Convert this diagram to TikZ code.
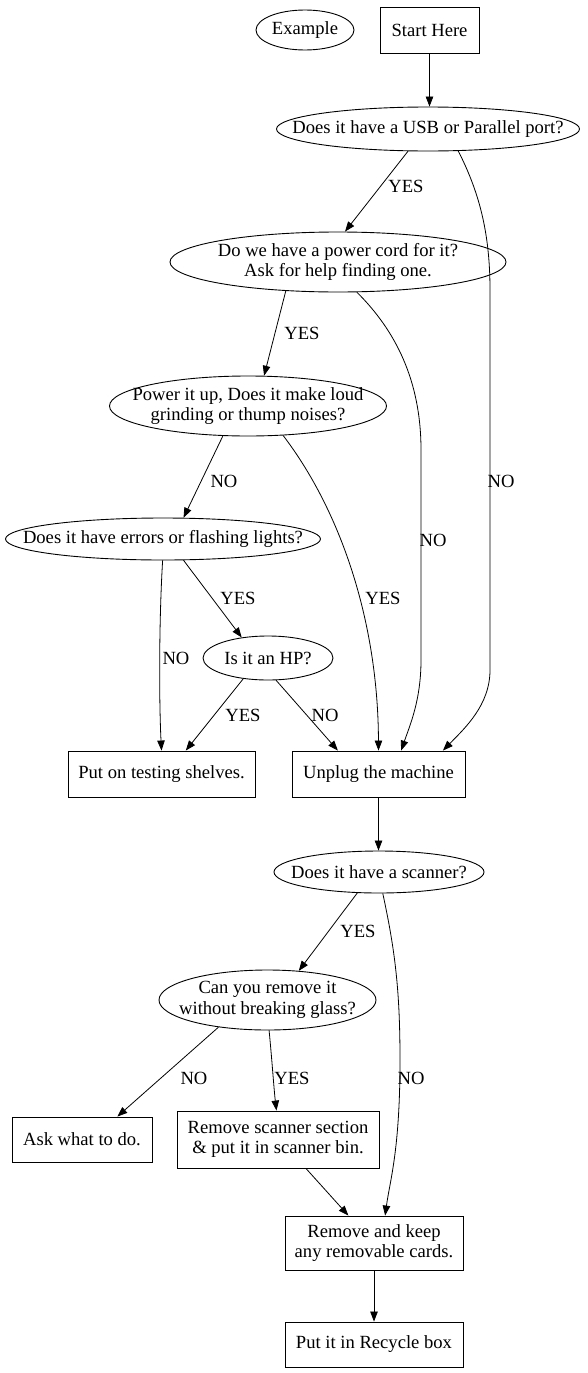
\documentclass[tikz,border=0pt]{standalone}
\usepackage{fontspec}
\setmainfont{Liberation Serif}
\usetikzlibrary{shapes.geometric,arrows.meta}
\begin{document}
\begin{tikzpicture}[x=1pt,y=-1pt,
  every node/.style={font=\fontsize{18.6}{20.5}\selectfont, align=center},
  box/.style={draw, line width=0.9pt, rectangle, inner sep=0pt},
  oval/.style={draw, line width=0.9pt, ellipse, inner xsep=-100pt, inner ysep=-15pt},
  arr/.style={draw, line width=0.8pt, -{Triangle[length=10pt,width=7.5pt]}},
  lbl/.style={inner sep=0pt}]
\useasboundingbox[fill=white] (0,0) rectangle (588,1373);
% nodes
\node[oval, minimum width=98pt, minimum height=40pt] (example) at (305,30) {Example};
\node[box, minimum width=99pt, minimum height=46pt] (start) at (429.5,30) {Start Here};
\node[oval, minimum width=303pt, minimum height=44pt] (usb) at (428,129) {Does it have a USB or Parallel port?};
\node[oval, minimum width=336pt, minimum height=60pt] (pc) at (338,262) {Do we have a power cord for it?\\Ask for help finding one.};
\node[oval, minimum width=277pt, minimum height=60pt] (pu) at (248,406) {Power it up, Does it make loud\\grinding or thump noises?};
\node[oval, minimum width=315pt, minimum height=42pt] (err) at (163,539) {Does it have errors or flashing lights?};
\node[oval, minimum width=130pt, minimum height=44pt] (hp) at (268,658) {Is it an HP?};
\node[box, minimum width=187pt, minimum height=46pt] (shelves) at (161.5,774) {Put on testing shelves.};
\node[box, minimum width=173pt, minimum height=46pt] (unplug) at (378.5,774) {Unplug the machine};
\node[oval, minimum width=210pt, minimum height=42pt] (scan) at (379,872) {Does it have a scanner?};
\node[oval, minimum width=217pt, minimum height=60pt] (canrm) at (267.5,1000) {Can you remove it\\without breaking glass?};
\node[box, minimum width=140pt, minimum height=45pt] (ask) at (82,1139.5) {Ask what to do.};
\node[box, minimum width=202pt, minimum height=57pt] (rss) at (278,1139.5) {Remove scanner section\\\& put it in scanner bin.};
\node[box, minimum width=178pt, minimum height=54pt] (keep) at (374,1243) {Remove and keep\\any removable cards.};
\node[box, minimum width=178pt, minimum height=45pt] (recycle) at (374,1344.5) {Put it in Recycle box};
% edges
\draw[arr] (start.south) -- (start.south |- usb.north);
\draw[arr] (usb.-132) -- (pc.77);
\node[lbl] at (406,186) {YES};
\draw[arr] (usb.-36) .. controls (478,190) and (490,230) .. (490,290) -- (490,670) .. controls (490,705) and (465,728) .. (unplug.20);
\node[lbl] at (501,481) {NO};
\draw[arr] (pc.-151) -- (pu.62);
\node[lbl] at (302,333) {YES};
\draw[arr] (pc.-58) .. controls (395,330) and (421,380) .. (421,450) -- (421,660) .. controls (421,700) and (410,725) .. (unplug.46);
\node[lbl] at (433,540) {NO};
\draw[arr] (pu.-130) -- (err.46);
\node[lbl] at (224,481) {NO};
\draw[arr] (pu.-40) .. controls (340,510) and (378,620) .. (unplug.north);
\node[lbl] at (383,598) {YES};
\draw[arr] (err.-91) .. controls (159,620) and (159,700) .. (shelves.north);
\node[lbl] at (176,658) {NO};
\draw[arr] (err.-46) -- (hp.142);
\node[lbl] at (238,598) {YES};
\draw[arr] (hp.-140) -- (shelves.44);
\node[lbl] at (243,715) {YES};
\draw[arr] (hp.-70) -- (unplug.150);
\node[lbl] at (325,715) {NO};
\draw[arr] (unplug.south) -- (unplug.south |- scan.north);
\draw[arr] (scan.-136) -- (canrm.43);
\node[lbl] at (358,931) {YES};
\draw[arr] (scan.-80) .. controls (395,950) and (400,990) .. (400,1060) .. controls (400,1150) and (390,1180) .. (keep.68);
\node[lbl] at (411,1078) {NO};
\draw[arr] (canrm.-151) -- (ask.33);
\node[lbl] at (194,1078) {NO};
\draw[arr] (canrm.-87) .. controls (272,1060) and (274,1090) .. (rss.93);
\node[lbl] at (292,1078) {YES};
\draw[arr] (rss.-46) -- (keep.133);
\draw[arr] (keep.south) -- (recycle.north);
\end{tikzpicture}
\end{document}
